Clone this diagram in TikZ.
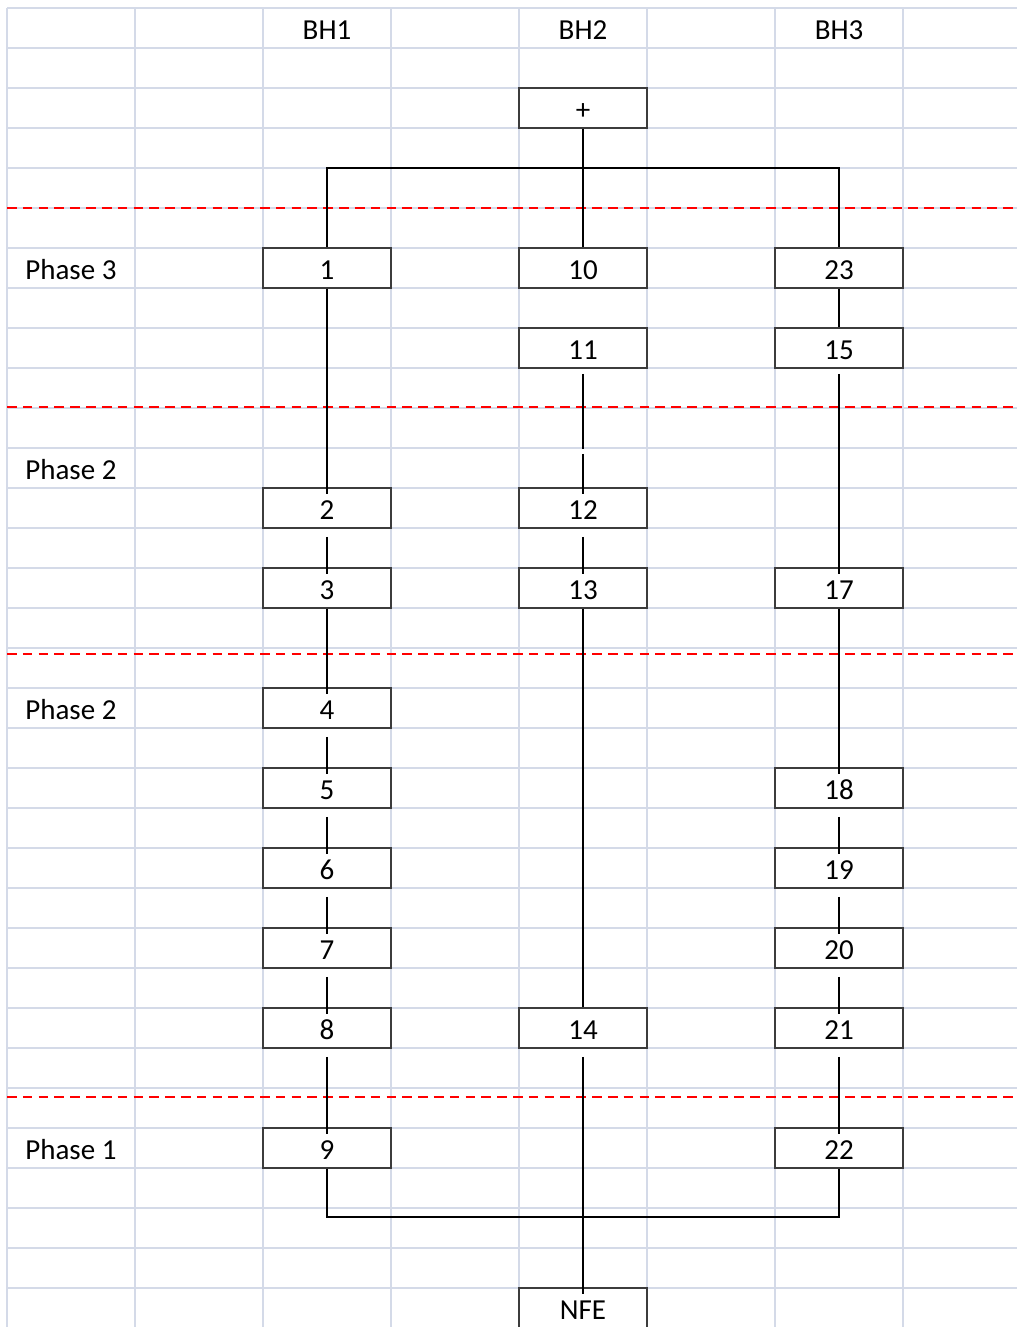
\documentclass[tikz,border=0pt]{standalone}
\usepackage{fontspec}
\setmainfont{Carlito}
\definecolor{gridline}{RGB}{212,218,232}
\definecolor{boxline}{RGB}{60,60,60}
\tikzset{
  cell/.style={draw=boxline, fill=white, line width=1.1pt, minimum width=2.56cm,
    minimum height=0.8cm, inner sep=0pt, text height=12.6pt, text depth=0pt,
    font=\fontsize{16.5}{19}\selectfont},
  heading/.style={font=\fontsize{16.5}{19}\selectfont},
  phasetext/.style={anchor=west, inner sep=0pt, font=\fontsize{16.5}{19}\selectfont},
  border/.style={red, line width=1.1pt, dash pattern=on 5.5pt off 3.5pt},
  wire/.style={line width=1.1pt},
  link/.style={wire, shorten >=-4pt},
  gaplink/.style={link, shorten <=4.5pt}
}
\begin{document}
\begin{tikzpicture}[x=0.02cm, y=-0.02cm]
        \useasboundingbox (0,0) rectangle (1017,1327);

        % Sheet grid
        \foreach \gx in {7,135,...,903}
          \draw[gridline, line width=0.9pt] (\gx,8) -- (\gx,1327);
        \foreach \gy in {8,48,...,1288}
          \draw[gridline, line width=0.9pt] (7,\gy) -- (1017,\gy);

        % Column headings
        \node[heading] (bh1) at (327,30) {BH1};
        \node[heading] (bh2) at (583,30) {BH2};
        \node[heading] (bh3) at (839,30) {BH3};

        % Phase borders
        \draw[border] (7,208) -- (1017,208);
        \draw[border] (7,407) -- (1017,407);
        \draw[border] (7,654) -- (1017,654);
        \draw[border] (7,1097) -- (1017,1097);

        % Phase names
        \node[phasetext] (phase3) at (25,270) {Phase 3};
        \node[phasetext] (phase2a) at (25,470) {Phase 2};
        \node[phasetext] (phase2b) at (25,710) {Phase 2};
        \node[phasetext] (phase1) at (25,1150) {Phase 1};

        % Boxes
        \node[cell] (plus) at (583,108) {+};

        \node[cell] (b1) at (327,268) {1};
        \node[cell] (b2) at (327,508) {2};
        \node[cell] (b3) at (327,588) {3};
        \node[cell] (b4) at (327,708) {4};
        \node[cell] (b5) at (327,788) {5};
        \node[cell] (b6) at (327,868) {6};
        \node[cell] (b7) at (327,948) {7};
        \node[cell] (b8) at (327,1028) {8};
        \node[cell] (b9) at (327,1148) {9};

        \node[cell] (b10) at (583,268) {10};
        \node[cell] (b11) at (583,348) {11};
        \node[cell] (b12) at (583,508) {12};
        \node[cell] (b13) at (583,588) {13};
        \node[cell] (b14) at (583,1028) {14};

        \node[cell] (b23) at (839,268) {23};
        \node[cell] (b15) at (839,348) {15};
        \node[cell] (b17) at (839,588) {17};
        \node[cell] (b18) at (839,788) {18};
        \node[cell] (b19) at (839,868) {19};
        \node[cell] (b20) at (839,948) {20};
        \node[cell] (b21) at (839,1028) {21};
        \node[cell] (b22) at (839,1148) {22};

        \node[cell] (nfe) at (583,1308) {NFE};

        % Split at the top, merge at the bottom
        \coordinate (split) at (583,168);
        \coordinate (merge) at (583,1217);
        \draw[wire] (plus) -- (b10);
        \draw[wire] (b1.north) |- (split) -| (b23.north);
        \draw[wire] (b9.south) |- (merge) -| (b22.south);

        % BH1 chain
        \draw[link] (b1) -- (b2);
        \draw[gaplink] (b2) -- (b3);
        \draw[link] (b3) -- (b4);
        \draw[gaplink] (b4) -- (b5);
        \draw[gaplink] (b5) -- (b6);
        \draw[gaplink] (b6) -- (b7);
        \draw[gaplink] (b7) -- (b8);
        \draw[gaplink] (b8) -- (b9);

        % BH2 chain
        \draw[gaplink, shorten <=2.8pt, dash pattern=on 42.7pt off 2.8pt on 40pt] (b11) -- (b12);
        \draw[gaplink] (b12) -- (b13);
        \draw[wire] (b13) -- (b14);
        \draw[gaplink] (b14) -- (nfe);

        % BH3 chain
        \draw[wire] (b23) -- (b15);
        \draw[gaplink, shorten <=2.8pt] (b15) -- (b17);
        \draw[link] (b17) -- (b18);
        \draw[gaplink] (b18) -- (b19);
        \draw[gaplink] (b19) -- (b20);
        \draw[gaplink] (b20) -- (b21);
        \draw[gaplink] (b21) -- (b22);
\end{tikzpicture}
\end{document}
